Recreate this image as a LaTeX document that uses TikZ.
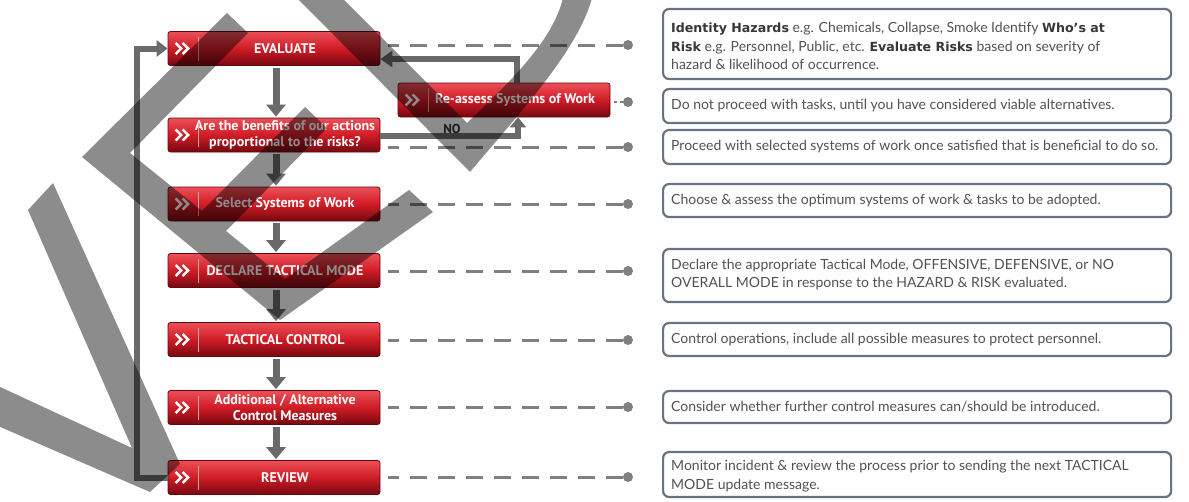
\documentclass[tikz,border=0pt]{standalone}
\usepackage{fontspec}
\setmainfont{Lato}
\newfontfamily\btnfont{PT Sans}
\newfontfamily\hvyfont{DejaVu Sans}
\usetikzlibrary{arrows.meta,calc}
\definecolor{gflow}{RGB}{106,106,106}
\definecolor{gdash}{RGB}{128,128,128}
\definecolor{slate}{RGB}{105,116,130}
\definecolor{btop}{RGB}{236,80,88}
\definecolor{bmid}{RGB}{208,28,38}
\definecolor{bbot}{RGB}{118,8,16}
\definecolor{bedge}{RGB}{100,8,14}
\definecolor{sepc}{RGB}{238,160,160}
\definecolor{txtg}{RGB}{82,82,82}
\definecolor{txtd}{RGB}{55,55,55}
\newcommand{\hv}[1]{{\hvyfont\bfseries\fontsize{12.6}{18.5}\selectfont\color{txtd}#1}}
\newcommand{\mkbtn}[3]{%
  \node[btn] (#1) at #2 {};
  \node[btntext] (#1t) at ($(#1.center)+(11,0)$) {#3};
  \draw[sepline] ($(#1.west)+(31,-12)$) -- ($(#1.west)+(31,12)$);
  \draw[chev] ($(#1.west)+(8,-5.5)$) -- ++(5.5,5.5) -- ++(-5.5,5.5);
  \draw[chev] ($(#1.west)+(15,-5.5)$) -- ++(5.5,5.5) -- ++(-5.5,5.5);
}
\begin{document}
\begin{tikzpicture}[x=1pt,y=-1pt,
  btn/.style={draw=bedge, line width=0.8pt, rounded corners=2.5pt, minimum width=212pt, minimum height=34pt, inner sep=0pt, top color=btop, bottom color=bbot, middle color=bmid},
  btntext/.style={font=\btnfont\bfseries\fontsize{14}{16}\selectfont, text=white, align=center, inner sep=0pt},
  sepline/.style={draw=sepc, line width=1pt},
  chev/.style={draw=white, line width=2.6pt, line cap=butt, line join=miter},
  flow/.style={draw=gflow, line width=7pt, -{Triangle[width=19pt,length=12pt]}},
  loopline/.style={draw=gflow, line width=6pt},
  dashline/.style={draw=gdash, line width=3pt, dash pattern=on 17pt off 11pt},
  dot/.style={circle, fill=gdash, minimum size=10pt, inner sep=0pt},
  infobox/.style={draw=slate, line width=2.2pt, rounded corners=6pt, fill=white, minimum width=508pt, inner sep=0pt, anchor=west},
  infotext/.style={anchor=west, align=left, inner sep=0pt, font=\fontsize{14}{18.5}\selectfont, text=txtg},
  wm/.style={fill=black, fill opacity=0.45, draw=none}]
\useasboundingbox (0,0) rectangle (1189,501);
\fill[white] (0,0) rectangle (1189,501);

% buttons
\mkbtn{evaluate}{(274,48.5)}{EVALUATE}
\mkbtn{benefits}{(274,135)}{Are the benefits of our actions\\proportional to the risks?}
\mkbtn{select}{(274,204)}{Select Systems of Work}
\mkbtn{declare}{(274,270.5)}{DECLARE TACTICAL MODE}
\mkbtn{tactical}{(274,339.5)}{TACTICAL CONTROL}
\mkbtn{additional}{(274,407.5)}{Additional / Alternative\\Control Measures}
\mkbtn{review}{(274,477.5)}{REVIEW}
\mkbtn{reassess}{(504,100)}{Re-assess Systems of Work}

% flow arrows
\draw[flow] ($(evaluate.south)+(2,2)$) -- ($(benefits.north)+(2,-1)$);
\draw[flow] ($(benefits.south)+(2,2)$) -- ($(select.north)+(2,-1)$);
\draw[flow] ($(select.south)+(2,2)$) -- ($(declare.north)+(2,-1)$);
\draw[flow] ($(declare.south)+(2,2)$) -- ($(tactical.north)+(2,-1)$);
\draw[flow] ($(tactical.south)+(2,2)$) -- ($(additional.north)+(2,-1)$);
\draw[flow] ($(additional.south)+(2,2)$) -- ($(review.north)+(2,-1)$);

% feedback loop
\draw[loopline, -{Triangle[width=16pt,length=11pt]}] (review.west) -- ++(-31,0) |- (evaluate.west);

% NO loop
\coordinate (cNO) at (518,136);
\draw[loopline, -{Triangle[width=16pt,length=10pt]}] (benefits.east |- cNO) -- (cNO) -- (reassess.south -| cNO);
\node[font=\btnfont\bfseries\fontsize{13}{14}\selectfont, text={rgb,255:red,50;green,50;blue,50}, inner sep=0pt] (nolbl) at (452,128.5) {NO};
\coordinate (cR) at (517,59);
\draw[loopline, -{Triangle[width=16pt,length=12pt]}] (reassess.north -| cR) -- (cR) -- (evaluate.east |- cR);

% dots and dashed leaders
\node[dot] (p1) at (628,45) {};
\node[dot] (p2) at (628,102) {};
\node[dot] (p3) at (628,147) {};
\node[dot] (p4) at (628,204) {};
\node[dot] (p5) at (628,271) {};
\node[dot] (p6) at (628,340) {};
\node[dot] (p7) at (628,407) {};
\node[dot] (p8) at (628,477) {};
\draw[dashline] (p1) -- ($(evaluate.east |- p1)+(8,0)$);
\draw[draw=gdash, line width=2.5pt, dash pattern=on 3pt off 3pt] (p2) -- ($(reassess.east |- p2)+(2,0)$);
\draw[dashline] (p3) -- ($(benefits.east |- p3)+(8,0)$);
\draw[dashline] (p4) -- ($(select.east |- p4)+(8,0)$);
\draw[dashline] (p5) -- ($(declare.east |- p5)+(8,0)$);
\draw[dashline] (p6) -- ($(tactical.east |- p6)+(8,0)$);
\draw[dashline] (p7) -- ($(additional.east |- p7)+(8,0)$);
\draw[dashline] (p8) -- ($(review.east |- p8)+(8,0)$);

% info boxes
\node[infobox, minimum height=70pt] (i1) at (662,44) {};
\node[infotext] (i1t) at (671,46) {\hv{Identity Hazards} e.g. Chemicals, Collapse, Smoke Identify \hv{Who’s at}\\\hv{Risk} e.g. Personnel, Public, etc. \hv{Evaluate Risks} based on severity of\\hazard \& likelihood of occurrence.};
\node[infobox, minimum height=34pt] (i2) at (662,106) {};
\node[infotext] (i2t) at (671,106) {Do not proceed with tasks, until you have considered viable alternatives.};
\node[infobox, minimum height=34pt] (i3) at (662,147) {};
\node[infotext] (i3t) at (671,147) {Proceed with selected systems of work once satisfied that is beneficial to do so.};
\node[infobox, minimum height=33pt] (i4) at (662,200.5) {};
\node[infotext] (i4t) at (671,200.5) {Choose \& assess the optimum systems of work \& tasks to be adopted.};
\node[infobox, minimum height=53pt] (i5) at (662,275.5) {};
\node[infotext] (i5t) at (671,274.5) {Declare the appropriate Tactical Mode, OFFENSIVE, DEFENSIVE, or NO\\OVERALL MODE in response to the HAZARD \& RISK evaluated.};
\node[infobox, minimum height=33pt] (i6) at (662,339.5) {};
\node[infotext] (i6t) at (671,339.5) {Control operations, include all possible measures to protect personnel.};
\node[infobox, minimum height=32pt] (i7) at (662,407) {};
\node[infotext] (i7t) at (671,407) {Consider whether further control measures can/should be introduced.};
\node[infobox, minimum height=45pt] (i8) at (662,474.5) {};
\node[infotext] (i8t) at (671,476) {Monitor incident \& review the process prior to sending the next TACTICAL\\MODE update message.};

% watermark overlay shapes
\fill[wm] (28,210) -- (53,183) -- (180,464) -- (150,492) -- (-2,426) -- (-2,386) -- (132,448) -- cycle;
\fill[wm] (82,157) -- (227,13) -- (248,33) -- (130,153) -- (202,211) -- (305,107) -- (327,128) -- (226,231) -- (285,279) -- (409,190) -- (433,212) -- (280,320) -- cycle;
\fill[wm] (297,-2) -- (470,172) .. controls (522,110) and (578,50) .. (592,-2) -- (563,-2) .. controls (553,40) and (512,80) .. (467,123) -- (342,-2) -- cycle;
\end{tikzpicture}
\end{document}
